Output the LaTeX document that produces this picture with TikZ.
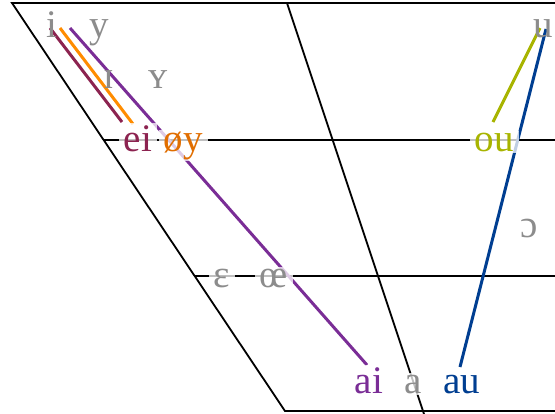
\documentclass[tikz,border=0pt]{standalone}
\usepackage{fontspec}
\setmainfont{Liberation Serif}
\definecolor{vgray}{RGB}{140,140,140}
\definecolor{cmaroon}{RGB}{140,35,80}
\definecolor{corange}{RGB}{255,140,0}
\definecolor{corangetxt}{RGB}{225,110,0}
\definecolor{cpurple}{RGB}{122,45,150}
\definecolor{cblue}{RGB}{0,62,145}
\definecolor{colive}{RGB}{168,180,0}
\begin{document}
\begin{tikzpicture}[x=1pt,y=-1pt,
  frame/.style={line width=1.8pt, black},
  glide/.style={line width=3pt},
  vow/.style={anchor=base, inner sep=0pt, text=vgray, font=\fontsize{39}{39}\selectfont},
  halo/.style={fill=white, fill opacity=0.75, text opacity=1, inner xsep=5pt, inner ysep=2pt}]
\useasboundingbox (0,0) rectangle (555,413);
\clip (0,0) rectangle (555,413);
% frame
\coordinate (TL) at (12,3);
\coordinate (TR) at (570,3);
\coordinate (BL) at (285,411);
\coordinate (BR) at (570,411);
\coordinate (MT) at (287,3);
\coordinate (MB) at (424,414);
\coordinate (H1L) at (104,140);
\coordinate (H1R) at (570,140);
\coordinate (H2L) at (195,276);
\coordinate (H2R) at (570,276);
\draw[frame] (TR) -- (TL) -- (BL) -- (BR);
\draw[frame] (MT) -- (MB);
\draw[frame] (H1L) -- (H1R);
\draw[frame] (H2L) -- (H2R);
% glide end points
\coordinate (m1) at (50,28);  \coordinate (m2) at (122,122);
\coordinate (o1) at (60,28);  \coordinate (o2) at (133,124);
\coordinate (p1) at (70,28);  \coordinate (p2) at (367,365);
\coordinate (g1) at (540,28); \coordinate (g2) at (493,122);
\coordinate (b1) at (546,29); \coordinate (b2) at (460,367);
\draw[glide, cmaroon] (m1) -- (m2);
\draw[glide, corange] (o1) -- (o2);
\draw[glide, cpurple] (p1) -- (p2);
\draw[glide, colive] (g1) -- (g2);
\draw[glide, cblue] (b1) -- (b2);
% plain vowel labels
\node[vow] (i) at (52,37) {i};
\node[vow] (y) at (99,37) {y};
\node[vow] (I) at (109,88) {ɪ};
\node[vow] (Y) at (158,88) {ʏ};
\node[vow] (u) at (543,37) {u};
\node[vow] (oo) at (529,237) {ɔ};
% labels with halos
\node[vow, halo] (eps) at (222,287) {ɛ};
\node[vow, halo] (oe) at (274,287) {œ};
\node[vow, halo, text=cmaroon] (ei) at (138,151) {ei};
\node[vow, halo, text=corangetxt] (oey) at (183,151) {øy};
\node[vow, halo, text=colive] (ou) at (494,151) {ou};
\node[vow, halo, text=cpurple] (ai) at (369,393) {ai};
\node[vow, halo] (a) at (413,393) {a};
\node[vow, halo, text=cblue] (au) at (462,393) {au};
\end{tikzpicture}
\end{document}
